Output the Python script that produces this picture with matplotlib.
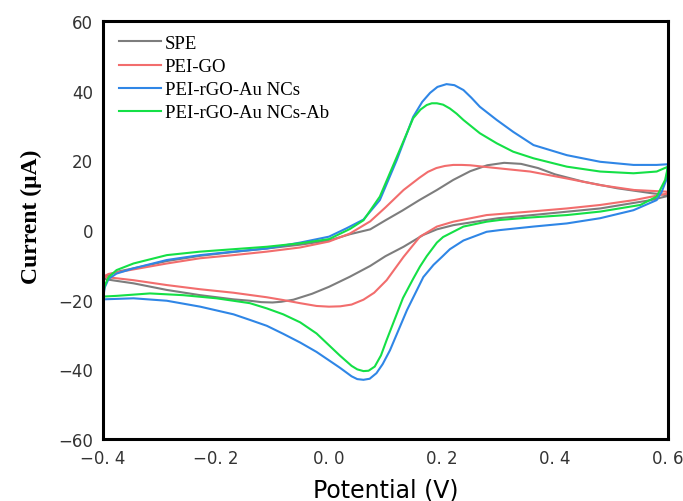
import matplotlib.pyplot as plt

# cyclic voltammograms: forward (upper) and reverse (lower) branches
spe_v_fwd = [-0.400, -0.390, -0.370, -0.346, -0.287, -0.228, -0.169, -0.110, -0.051, 0.000, 0.037, 0.073,
             0.100, 0.130, 0.160, 0.191, 0.220, 0.250, 0.280, 0.310, 0.340, 0.370, 0.400, 0.450, 0.510,
             0.570, 0.600]
spe_i_fwd = [-14.0, -12.8, -11.8, -11.0, -8.9, -7.4, -6.3, -5.3, -4.2, -3.0, -1.2, 0.2,
             2.8, 5.6, 8.6, 11.5, 14.4, 16.9, 18.6, 19.3, 19.0, 17.8, 16.0, 13.9, 12.0,
             10.6, 10.0]
spe_v_rev = [0.600, 0.570, 0.480, 0.360, 0.300, 0.279, 0.220, 0.191, 0.167, 0.132, 0.100, 0.073, 0.037,
             0.000, -0.030, -0.063, -0.085, -0.100, -0.120, -0.140, -0.169, -0.228, -0.287, -0.346,
             -0.380, -0.400]
spe_i_rev = [9.8, 8.6, 6.2, 4.3, 3.4, 2.9, 1.4, 0.2, -1.4, -4.8, -7.5, -10.3, -13.4,
             -16.3, -18.3, -20.0, -20.6, -20.8, -20.7, -20.3, -19.9, -18.7, -17.2, -15.3,
             -14.5, -14.0]

go_v_fwd = [-0.400, -0.390, -0.370, -0.346, -0.287, -0.228, -0.169, -0.110, -0.051, 0.000, 0.037, 0.073,
            0.100, 0.132, 0.160, 0.175, 0.190, 0.205, 0.220, 0.235, 0.250, 0.290, 0.356, 0.421, 0.480,
            0.540, 0.600]
go_i_fwd = [-13.4, -12.6, -12.0, -11.3, -9.6, -8.1, -7.2, -6.2, -5.0, -3.3, -1.0, 2.5,
            6.5, 11.5, 15.0, 16.7, 17.8, 18.4, 18.7, 18.7, 18.6, 17.9, 16.8, 14.8, 12.9,
            11.5, 11.0]
go_v_rev = [0.600, 0.540, 0.480, 0.421, 0.356, 0.279, 0.220, 0.191, 0.161, 0.132, 0.102, 0.080, 0.061,
            0.040, 0.020, 0.000, -0.022, -0.051, -0.081, -0.110, -0.169, -0.228, -0.287, -0.346, -0.400]
go_i_rev = [10.5, 8.6, 7.2, 6.2, 5.3, 4.3, 2.4, 1.0, -1.9, -7.7, -14.4, -18.0, -20.0,
            -21.4, -21.9, -22.0, -21.8, -21.0, -20.1, -19.3, -18.0, -17.0, -15.8, -14.4, -13.4]

au_v_fwd = [-0.400, -0.397, -0.390, -0.376, -0.346, -0.287, -0.228, -0.169, -0.110, -0.051, 0.000, 0.031,
            0.061, 0.090, 0.120, 0.149, 0.165, 0.179, 0.192, 0.208, 0.222, 0.238, 0.252, 0.267, 0.297,
            0.326, 0.362, 0.421, 0.480, 0.539, 0.580, 0.600]
au_i_fwd = [-19.9, -16.5, -14.0, -12.5, -11.0, -8.6, -7.2, -6.2, -5.3, -3.6, -1.9, 0.5,
            3.0, 8.6, 20.1, 32.5, 36.8, 39.4, 41.1, 41.9, 41.6, 40.2, 38.0, 35.4, 31.6,
            28.2, 24.4, 21.5, 19.6, 18.7, 18.7, 18.9]
au_v_rev = [0.600, 0.597, 0.589, 0.580, 0.539, 0.480, 0.421, 0.362, 0.303, 0.279, 0.238, 0.214, 0.200,
            0.185, 0.167, 0.138, 0.108, 0.095, 0.084, 0.072, 0.061, 0.050, 0.040, 0.019, -0.022, -0.051,
            -0.081, -0.110, -0.140, -0.169, -0.228, -0.287, -0.346, -0.400]
au_i_rev = [18.9, 14.4, 11.0, 8.6, 5.7, 3.4, 1.9, 1.0, 0.0, -0.5, -3.0, -5.5, -7.7,
            -10.0, -13.5, -23.0, -34.5, -38.5, -41.1, -42.7, -43.0, -42.8, -42.0, -39.5, -35.0, -32.3,
            -29.8, -27.5, -25.8, -24.2, -22.0, -20.3, -19.6, -19.9]

ab_v_fwd = [-0.400, -0.397, -0.390, -0.376, -0.346, -0.287, -0.228, -0.169, -0.110, -0.051, 0.000, 0.037,
            0.061, 0.090, 0.120, 0.149, 0.162, 0.173, 0.182, 0.191, 0.202, 0.214, 0.226, 0.238, 0.267,
            0.297, 0.326, 0.362, 0.421, 0.480, 0.539, 0.580, 0.600]
ab_i_fwd = [-19.1, -16.0, -13.5, -11.5, -9.6, -7.2, -6.2, -5.5, -4.8, -3.8, -2.6, 0.3,
            2.8, 9.6, 21.0, 32.1, 34.6, 35.9, 36.4, 36.4, 36.0, 34.9, 33.4, 31.6, 27.8,
            24.9, 22.5, 20.6, 18.2, 16.8, 16.3, 16.8, 18.2]
ab_v_rev = [0.600, 0.595, 0.580, 0.551, 0.480, 0.421, 0.356, 0.303, 0.279, 0.238, 0.214, 0.202, 0.191,
            0.173, 0.161, 0.149, 0.131, 0.102, 0.092, 0.081, 0.070, 0.061, 0.050, 0.040, 0.019, -0.022,
            -0.051, -0.081, -0.110, -0.140, -0.199, -0.258, -0.317, -0.376, -0.400]
ab_i_rev = [18.2, 14.4, 9.6, 7.2, 5.3, 4.3, 3.6, 2.9, 2.4, 1.0, -1.0, -2.0, -3.6,
            -7.5, -10.5, -14.0, -19.5, -31.6, -36.0, -39.2, -40.4, -40.5, -40.0, -39.0, -36.0, -29.7,
            -26.5, -24.2, -22.5, -21.0, -19.6, -18.7, -18.2, -18.9, -19.1]

labels = ["SPE", "PEI-GO", "PEI-rGO-Au NCs", "PEI-rGO-Au NCs-Ab"]
colors = ["#7d7d7d", "#f26d6d", "#2f86e6", "#14e046"]

x_ticks = [-0.4, -0.2, 0.0, 0.2, 0.4, 0.6]
x_tick_labels = ["\u22120. 4", "\u22120. 2", "0. 0", "0. 2", "0. 4", "0. 6"]
y_ticks = [-60, -40, -20, 0, 20, 40, 60]
y_tick_labels = ["\u221260", "\u221240", "\u221220", "0", "20", "40", "60"]

curves = [
    (spe_v_fwd + spe_v_rev, spe_i_fwd + spe_i_rev),
    (go_v_fwd + go_v_rev, go_i_fwd + go_i_rev),
    (au_v_fwd + au_v_rev, au_i_fwd + au_i_rev),
    (ab_v_fwd + ab_v_rev, ab_i_fwd + ab_i_rev),
]

fig = plt.figure(figsize=(6.83, 5.02), dpi=100)
ax = fig.add_axes([0.1508, 0.1235, 0.8272, 0.8325])

for (v, i), lab, col in zip(curves, labels, colors):
    ax.plot(v, i, color=col, lw=1.5, label=lab, solid_joinstyle="round")

ax.set_xlim(-0.4, 0.6)
ax.set_ylim(-60, 60)
ax.set_xticks(x_ticks)
ax.set_xticklabels(x_tick_labels)
ax.set_yticks(y_ticks)
ax.set_yticklabels(y_tick_labels)
ax.tick_params(length=0, pad=7, labelsize=12, labelcolor="#333333")
for s in ax.spines.values():
    s.set_linewidth(2.2)
    s.set_color("black")

ax.set_xlabel("Potential (V)", fontsize=17, labelpad=8)
ax.set_ylabel("Current (\u03bcA)", fontsize=17, fontweight="bold",
              family="Liberation Serif")
ax.yaxis.set_label_coords(-0.108, 0.533)

ax.legend(loc="upper left", bbox_to_anchor=(0.015, 0.985), frameon=False,
          prop={"family": "Liberation Serif", "size": 13.5},
          handlelength=2.25, handletextpad=0.2, labelspacing=0.32, borderaxespad=0)

fig.savefig("out.png", dpi=100)
